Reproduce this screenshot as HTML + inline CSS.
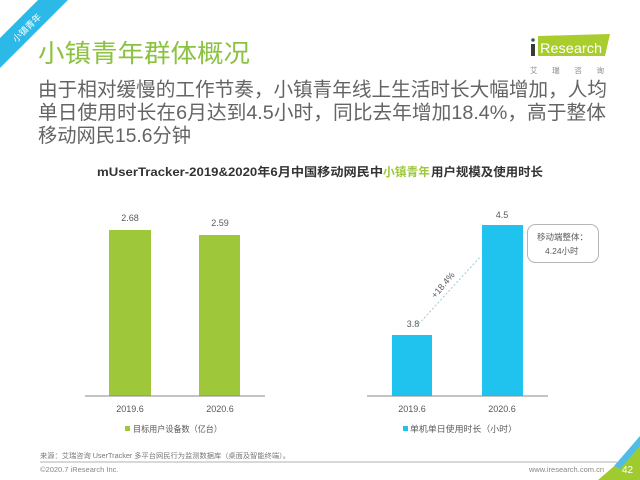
<!DOCTYPE html>
<html><head><meta charset="utf-8"><style>
html,body{margin:0;padding:0;background:#fff;}
svg{display:block;}
text{font-family:"Liberation Sans","Noto Sans CJK SC",sans-serif;}
</style></head><body>
<svg width="640" height="480" viewBox="0 0 640 480" xmlns="http://www.w3.org/2000/svg">
<rect width="640" height="480" fill="#fff"/>
<!-- corner ribbon -->
<polygon points="0,38 38,0 68,0 0,68" fill="#2cb9e8"/>
<text x="27" y="31" font-size="9" fill="#fff" text-anchor="middle" transform="rotate(-45 27 28)">小镇青年</text>
<!-- title -->
<text x="38" y="62" font-size="25" fill="#8cc241" textLength="212" lengthAdjust="spacingAndGlyphs">小镇青年群体概况</text>
<!-- body -->
<text x="38" y="96" font-size="19.5" fill="#646464" textLength="569" lengthAdjust="spacingAndGlyphs">由于相对缓慢的工作节奏，小镇青年线上生活时长大幅增加，人均</text>
<text x="38" y="119" font-size="19.5" fill="#646464" textLength="568" lengthAdjust="spacingAndGlyphs">单日使用时长在6月达到4.5小时，同比去年增加18.4%，高于整体</text>
<text x="38" y="142" font-size="19.5" fill="#646464" textLength="153" lengthAdjust="spacingAndGlyphs">移动网民15.6分钟</text>
<!-- logo -->
<polygon points="538,36 610,34 605,56 538,56" fill="#a9cd2c"/>
<rect x="531" y="44" width="4" height="12" fill="#3a3a3a"/>
<circle cx="533" cy="40" r="1.8" fill="#3a5a5a"/>
<text x="540" y="53" font-size="14" fill="#fff" textLength="62" lengthAdjust="spacingAndGlyphs">Research</text>
<text x="530" y="73" font-size="7.5" fill="#888" textLength="74" lengthAdjust="spacing">艾瑞咨询</text>
<!-- chart title -->
<text x="97" y="176" font-size="12" font-weight="bold" fill="#333" textLength="286" lengthAdjust="spacingAndGlyphs">mUserTracker-2019&amp;2020年6月中国移动网民中</text>
<text x="383" y="176" font-size="12" font-weight="bold" fill="#9dc93a" textLength="47" lengthAdjust="spacingAndGlyphs">小镇青年</text>
<text x="431" y="176" font-size="12" font-weight="bold" fill="#333" textLength="112" lengthAdjust="spacingAndGlyphs">用户规模及使用时长</text>
<!-- left chart -->
<rect x="109" y="230" width="42" height="166" fill="#9ec73a"/>
<rect x="199" y="235" width="41" height="161" fill="#9ec73a"/>
<line x1="85" y1="396" x2="265" y2="396" stroke="#8a8a8a" stroke-width="1"/>
<text x="130" y="221" font-size="9" fill="#595959" text-anchor="middle">2.68</text>
<text x="220" y="226" font-size="9" fill="#595959" text-anchor="middle">2.59</text>
<text x="130" y="412" font-size="9" fill="#595959" text-anchor="middle">2019.6</text>
<text x="220" y="412" font-size="9" fill="#595959" text-anchor="middle">2020.6</text>
<rect x="125" y="426" width="5" height="5" fill="#9ec73a"/>
<text x="133" y="432" font-size="8.5" fill="#595959" textLength="89" lengthAdjust="spacingAndGlyphs">目标用户设备数（亿台）</text>
<!-- right chart -->
<rect x="392" y="335" width="40" height="61" fill="#1fc3ee"/>
<rect x="482" y="225" width="41" height="171" fill="#1fc3ee"/>
<line x1="367" y1="396" x2="548" y2="396" stroke="#8a8a8a" stroke-width="1"/>
<text x="413" y="327" font-size="9" fill="#595959" text-anchor="middle">3.8</text>
<text x="502" y="218" font-size="9" fill="#595959" text-anchor="middle">4.5</text>
<line x1="416" y1="327" x2="481" y2="256" stroke="#9ccbd8" stroke-width="1" stroke-dasharray="2,2"/>
<text x="443" y="288" font-size="9" fill="#595959" text-anchor="middle" transform="rotate(-50 443 285)">+18.4%</text>
<rect x="527.5" y="224.5" width="71" height="38" rx="8" ry="8" fill="#fff" stroke="#b5b5b5" stroke-width="1"/>
<text x="537" y="240" font-size="8.5" fill="#595959">移动端整体：</text>
<text x="545" y="254" font-size="8.5" fill="#595959">4.24小时</text>
<text x="412" y="412" font-size="9" fill="#595959" text-anchor="middle">2019.6</text>
<text x="502" y="412" font-size="9" fill="#595959" text-anchor="middle">2020.6</text>
<rect x="403" y="426" width="5" height="5" fill="#1fc3ee"/>
<text x="410" y="432" font-size="8.5" fill="#595959" textLength="107" lengthAdjust="spacingAndGlyphs">单机单日使用时长（小时）</text>
<!-- footer -->
<text x="40" y="458" font-size="7" fill="#777" textLength="250" lengthAdjust="spacingAndGlyphs">来源：艾瑞咨询 UserTracker 多平台网民行为监测数据库（桌面及智能终端）。</text>
<line x1="40" y1="462" x2="617" y2="462" stroke="#999" stroke-width="0.8"/>
<text x="40" y="472" font-size="7.5" fill="#888">©2020.7 iResearch Inc.</text>
<text x="604" y="472" font-size="7.5" fill="#888" text-anchor="end">www.iresearch.com.cn</text>
<polygon points="598,480 640,444 640,480" fill="#9fcb2f"/>
<polygon points="614,466 640,436 640,446 620,469" fill="#4fbde6"/>
<text x="622" y="473" font-size="10" fill="#fff">42</text>
</svg>
</body></html>
